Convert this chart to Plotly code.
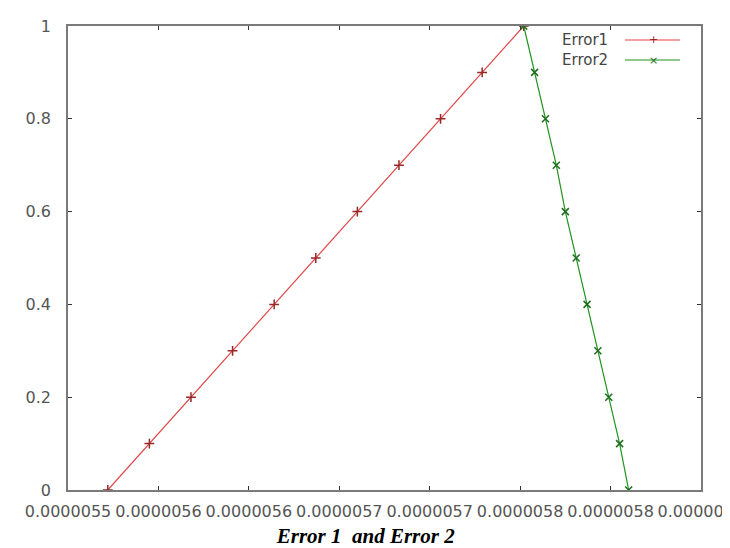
import plotly.graph_objects as go

# Data
error1_x = [5.522e-6, 5.545e-6, 5.568e-6, 5.591e-6, 5.614e-6, 5.637e-6,
            5.660e-6, 5.683e-6, 5.706e-6, 5.729e-6, 5.752e-6]
error1_y = [0.0, 0.1, 0.2, 0.3, 0.4, 0.5, 0.6, 0.7, 0.8, 0.9, 1.0]
error2_x = [5.752e-6, 5.758e-6, 5.764e-6, 5.770e-6, 5.775e-6, 5.781e-6,
            5.787e-6, 5.793e-6, 5.799e-6, 5.805e-6, 5.810e-6]
error2_y = [1.0, 0.9, 0.8, 0.7, 0.6, 0.5, 0.4, 0.3, 0.2, 0.1, 0.0]

x_tickvals = [5.50e-6, 5.55e-6, 5.60e-6, 5.65e-6, 5.70e-6, 5.75e-6, 5.80e-6, 5.8499e-6]
x_ticktext = ["0.0000055", "0.0000056", "0.0000056", "0.0000057",
              "0.0000057", "0.0000058", "0.0000058", "0.0000059"]
y_tickvals = [0, 0.2, 0.4, 0.6, 0.8, 1.0]
y_ticktext = ["0", "0.2", "0.4", "0.6", "0.8", "1"]

RED = "rgb(225,70,70)"
GREEN = "rgb(30,150,30)"
AXIS = "#7a7a7a"

fig = go.Figure()
fig.add_trace(go.Scatter(
    x=error1_x, y=error1_y, mode="lines+markers", name="Error1",
    line=dict(color=RED, width=1.2),
    marker=dict(symbol="cross-thin", size=7, line=dict(color="rgb(150,40,40)", width=1.5)),
))
fig.add_trace(go.Scatter(
    x=error2_x, y=error2_y, mode="lines+markers", name="Error2",
    line=dict(color=GREEN, width=1.2),
    marker=dict(symbol="x-thin", size=7, line=dict(color="rgb(30,110,30)", width=1.5)),
))

axis_common = dict(
    showline=True, linecolor=AXIS, linewidth=1.5, mirror="allticks",
    ticks="inside", ticklen=4, tickcolor="#333", tickwidth=1,
    showgrid=False, zeroline=False, automargin=False,
    tickfont=dict(family="DejaVu Sans", size=16, color="#555"),
)

fig.update_xaxes(range=[5.5e-6, 5.85e-6], tickvals=x_tickvals, ticktext=x_ticktext,
                 ticklabelstandoff=6, ticklabeloverflow="allow", tickangle=0,
                 **axis_common)
fig.update_yaxes(range=[0, 1], tickvals=y_tickvals, ticktext=y_ticktext,
                 ticklabelstandoff=12, **axis_common)

# gnuplot-style legend: text on the left, sample line on the right
legend_font = dict(family="DejaVu Sans", size=15, color="#444")
for i, (name, color, mcolor, sym) in enumerate([
        ("Error1", RED, "rgb(150,40,40)", "+"),
        ("Error2", GREEN, "rgb(30,110,30)", "×")]):
    ypx = 32 + 20 * i
    yp = 1 - (ypx - 18) / 464
    fig.add_annotation(xref="paper", yref="paper", x=(602 - 60) / 633, y=yp,
                       text=name, showarrow=False, xanchor="right", yanchor="middle",
                       font=legend_font)
    fig.add_shape(type="line", xref="paper", yref="paper",
                  x0=(617 - 60) / 633, x1=(672 - 60) / 633, y0=yp, y1=yp,
                  line=dict(color=color, width=1.2))
    fig.add_annotation(xref="paper", yref="paper", x=(645 - 60) / 633, y=yp,
                       text=sym, showarrow=False, xanchor="center", yanchor="middle",
                       font=dict(family="DejaVu Sans", size=11, color=mcolor))

fig.update_layout(
    width=730, height=548,
    margin=dict(l=60, r=37, t=18, b=66),
    plot_bgcolor="white", paper_bgcolor="white",
    showlegend=False,
    title=dict(text="Error 1\u00a0 and Error 2", x=0.49, xanchor="center",
               y=1 - 528 / 548, yanchor="middle", yref="container",
               font=dict(family="Liberation Serif", size=21, color="black",
                         weight="bold", style="italic")),
)

fig.write_html("out.html")
